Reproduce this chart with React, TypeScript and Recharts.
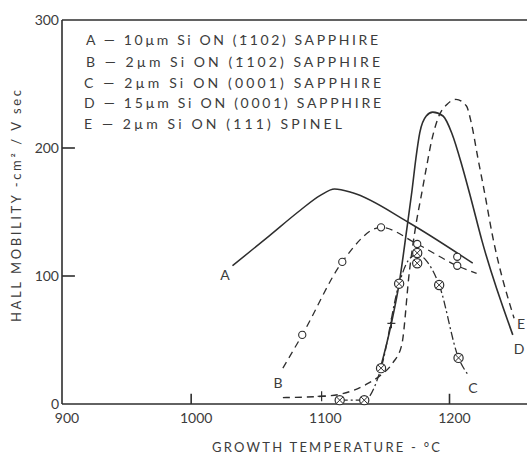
import React from 'react';
import { ComposedChart, Line, XAxis, YAxis, ReferenceLine } from 'recharts';

const xTicks = [900, 1000, 1100, 1200];
const yTicks = [0, 100, 200, 300];

const aTemp = [1032, 1060, 1084, 1100, 1111, 1125, 1168, 1218];
const aMob = [108, 131, 151, 163, 168, 165, 142, 110];

const bTemp = [1071, 1086, 1117, 1147, 1175, 1206, 1221];
const bMob = [28, 54, 111, 138, 125, 108, 102];

const cTemp = [1115, 1134, 1147, 1161, 1168, 1175, 1182, 1192, 1207, 1215];
const cMob = [3, 3, 28, 94, 112, 117, 112, 93, 36, 22];

const dTemp = [1146, 1155, 1161, 1167, 1171, 1174, 1177, 1182, 1187, 1195, 1202, 1210, 1217, 1225, 1249];
const dMob = [26, 63, 94, 137, 167, 192, 212, 225, 228, 225, 211, 185, 159, 128, 54];

const eTemp = [1071, 1101, 1117, 1135, 1146, 1156, 1163, 1169, 1174, 1178, 1182, 1186, 1191, 1198, 1205, 1213, 1217, 1222, 1227, 1233, 1250];
const eMob = [5, 6, 8, 15, 22, 32, 46, 104, 140, 162, 184, 205, 223, 234, 238, 233, 219, 192, 166, 133, 67];

const openCircleTemp = [1086, 1117, 1147, 1175, 1206, 1206];
const openCircleMob = [54, 111, 138, 125, 108, 115];

const crossCircleTemp = [1115, 1134, 1147, 1161, 1175, 1175, 1192, 1207];
const crossCircleMob = [3, 3, 28, 94, 118, 110, 93, 36];

const plusTemp = [1101, 1155];
const plusMob = [6, 63];

const legendRows = [
  'A — 10µm Si ON (1\u0304102) SAPPHIRE',
  'B — 2µm Si ON (1\u0304102) SAPPHIRE',
  'C — 2µm Si ON (0001) SAPPHIRE',
  'D — 15µm Si ON (0001) SAPPHIRE',
  'E — 2µm Si ON (111) SPINEL',
];

const curveLabels = ['A', 'B', 'C', 'D', 'E'];

const toData = (t: number[], v: number[]) => t.map((x, i) => ({ t: x, v: v[i] }));

const INK = '#2e2e2e';
const TEXT = '#3c3c3c';
const FONT = 'Lato, "DejaVu Sans", sans-serif';

const OpenCircle = (p: any) => (
  <circle key={`o-${p.index}`} cx={p.cx} cy={p.cy} r={3.6} fill="#fff" stroke={INK} strokeWidth={1.1} />
);

const CrossCircle = (p: any) => {
  const r = 4.6;
  const d = r * 0.7;
  return (
    <g key={`c-${p.index}`}>
      <circle cx={p.cx} cy={p.cy} r={r} fill="#fff" stroke={INK} strokeWidth={1.2} />
      <line x1={p.cx - d} y1={p.cy - d} x2={p.cx + d} y2={p.cy + d} stroke={INK} strokeWidth={1} />
      <line x1={p.cx - d} y1={p.cy + d} x2={p.cx + d} y2={p.cy - d} stroke={INK} strokeWidth={1} />
    </g>
  );
};

const PlusMark = (p: any) => (
  <g key={`p-${p.index}`}>
    <line x1={p.cx} y1={p.cy - 5} x2={p.cx} y2={p.cy + 5} stroke={INK} strokeWidth={1.2} />
    <line x1={p.cx - 4} y1={p.cy} x2={p.cx + 4} y2={p.cy} stroke={INK} strokeWidth={1.2} />
  </g>
);

const XTick = (p: any) => (
  <text x={p.x + 5} y={p.y + 17} textAnchor="middle" fontSize={14} fill={TEXT} fontFamily={FONT}>
    {p.payload.value}
  </text>
);

const YTick = (p: any) => (
  <text x={p.x - 1} y={p.y + 5} textAnchor="end" fontSize={14} fill={TEXT} fontFamily={FONT}>
    {p.payload.value}
  </text>
);

export default function App() {
  const legendY = [40, 62, 83, 103, 124];
  const legendX = [86, 86, 84, 84, 84];
  const legendEnd = [378, 380, 381, 381, 342];
  const labelPos = [
    [225, 275],
    [278, 383],
    [473, 388],
    [519, 349],
    [521, 324],
  ];
  return (
    <div style={{ position: 'absolute', left: 0, top: 0, width: 527, height: 454, background: '#fff' }}>
      <ComposedChart width={527} height={454} margin={{ top: 20, right: 0, left: 0, bottom: 20 }}>
        <XAxis
          type="number"
          dataKey="t"
          domain={[900, 1260]}
          ticks={xTicks}
          allowDataOverflow
          height={30}
          tickLine={false}
          tickSize={0}
          axisLine={{ stroke: INK, strokeWidth: 1.6 }}
          tick={<XTick />}
          interval={0}
        />
        <YAxis
          type="number"
          dataKey="v"
          domain={[0, 300]}
          ticks={yTicks}
          width={62}
          tickLine={false}
          tickSize={0}
          axisLine={{ stroke: INK, strokeWidth: 1.6 }}
          tick={<YTick />}
          interval={0}
        />
        <ReferenceLine y={300} stroke={INK} strokeWidth={1.4} />
        <ReferenceLine segment={[{ x: 900, y: 100 }, { x: 910, y: 100 }]} stroke={INK} strokeWidth={1.6} />
        <ReferenceLine segment={[{ x: 900, y: 200 }, { x: 910, y: 200 }]} stroke={INK} strokeWidth={1.6} />
        <ReferenceLine segment={[{ x: 1000, y: 0 }, { x: 1000, y: 8 }]} stroke={INK} strokeWidth={1.6} />
        <ReferenceLine segment={[{ x: 1200, y: 0 }, { x: 1200, y: 8 }]} stroke={INK} strokeWidth={1.6} />

        <Line data={toData(aTemp, aMob)} dataKey="v" type="monotone" stroke={INK} strokeWidth={1.5} dot={false} isAnimationActive={false} />
        <Line data={toData(bTemp, bMob)} dataKey="v" type="monotone" stroke={INK} strokeWidth={1.3} strokeDasharray="7 5" dot={false} isAnimationActive={false} />
        <Line data={toData(cTemp, cMob)} dataKey="v" type="monotone" stroke={INK} strokeWidth={1.3} strokeDasharray="8 3 2 3" dot={false} isAnimationActive={false} />
        <Line data={toData(dTemp, dMob)} dataKey="v" type="monotone" stroke={INK} strokeWidth={1.6} dot={false} isAnimationActive={false} />
        <Line data={toData(eTemp, eMob)} dataKey="v" type="monotone" stroke={INK} strokeWidth={1.4} strokeDasharray="7 5" dot={false} isAnimationActive={false} />

        <Line data={toData(openCircleTemp, openCircleMob)} dataKey="v" stroke="none" dot={OpenCircle} activeDot={false} isAnimationActive={false} />
        <Line data={toData(crossCircleTemp, crossCircleMob)} dataKey="v" stroke="none" dot={CrossCircle} activeDot={false} isAnimationActive={false} />
        <Line data={toData(plusTemp, plusMob)} dataKey="v" stroke="none" dot={PlusMark} activeDot={false} isAnimationActive={false} />
      </ComposedChart>
      <svg width={527} height={454} style={{ position: 'absolute', left: 0, top: 0, pointerEvents: 'none' }}>
        {legendRows.map((row, i) => (
          <text
            key={row}
            x={legendX[i]}
            y={legendY[i] + 5}
            fontSize={14}
            fill={TEXT}
            fontFamily={FONT}
            textLength={legendEnd[i] - legendX[i]}
            lengthAdjust="spacing"
          >
            {row}
          </text>
        ))}
        {curveLabels.map((c, i) => (
          <text key={c} x={labelPos[i][0]} y={labelPos[i][1] + 5} textAnchor="middle" fontSize={14} fill={TEXT} fontFamily={FONT}>
            {c}
          </text>
        ))}
        <text
          x={326}
          y={452}
          textAnchor="middle"
          fontSize={13}
          fill={TEXT}
          fontFamily={FONT}
          textLength={228}
          lengthAdjust="spacing"
        >
          GROWTH TEMPERATURE - °C
        </text>
        <text
          transform="translate(21,206) rotate(-90)"
          textAnchor="middle"
          fontSize={13}
          fill={TEXT}
          fontFamily={FONT}
          textLength={232}
          lengthAdjust="spacing"
        >
          HALL MOBILITY -cm² / V sec
        </text>
      </svg>
    </div>
  );
}
